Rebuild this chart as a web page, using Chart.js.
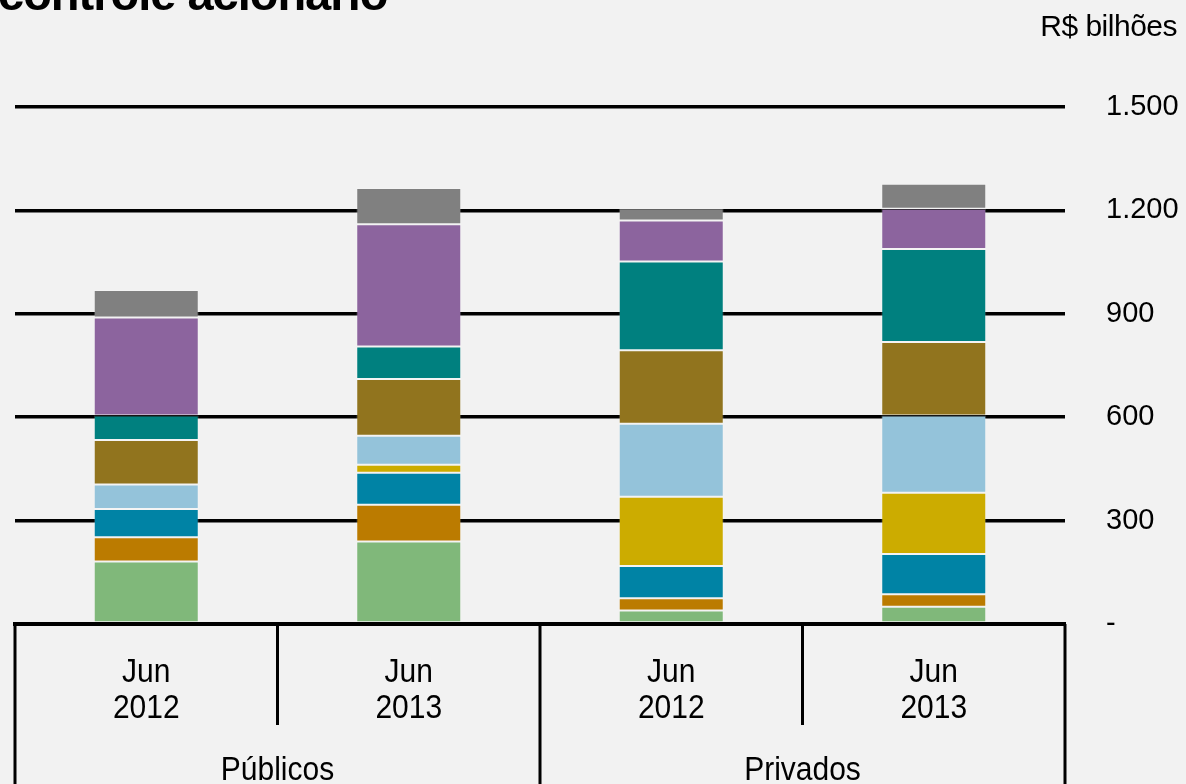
<!DOCTYPE html>
<html>
<head>
<meta charset="utf-8">
<script src="https://cdn.jsdelivr.net/npm/chart.js@4/dist/chart.umd.min.js"></script>
<style>
html,body{margin:0;padding:0;background:#F2F2F2;}
#wrap{position:relative;width:1186px;height:784px;}
</style>
</head>
<body>
<div id="wrap"><canvas id="c"></canvas></div>
<script>
// ---- data ----
const periods = ['Jun\n2012', 'Jun\n2013', 'Jun\n2012', 'Jun\n2013'];
const groups = ['Públicos', 'Privados'];
const titleText = 'controle acionário';
const unitText = 'R$ bilhões';
const yTickValues = [0, 300, 600, 900, 1200, 1500];
const yTickLabels = ['-', '300', '600', '900', '1.200', '1.500'];

const serie1 = [181, 239, 39, 50];
const serie2 = [71, 107, 36, 36];
const serie3 = [82, 93, 93, 117];
const serie4 = [0, 23, 201, 178];
const serie5 = [71, 84, 212, 224];
const serie6 = [129, 165, 213, 213];
const serie7 = [71, 94, 258, 270];
const serie8 = [284, 355, 119, 117];
const serie9 = [80, 105, 35, 72];

const seriesNames = ['Série 1','Série 2','Série 3','Série 4','Série 5','Série 6','Série 7','Série 8','Série 9'];
const seriesColors = ['#80B87A','#BB7B00','#0083A5','#CCAC00','#94C3DA','#91741E','#00807F','#8C649E','#808080'];
const seriesData = [serie1, serie2, serie3, serie4, serie5, serie6, serie7, serie8, serie9];

const FONT = '"Liberation Sans", Arial, sans-serif';

function stretchText(ctx, text, x, y, sy) {
  ctx.save();
  ctx.translate(x, y);
  ctx.scale(1, sy);
  ctx.fillText(text, 0, 0);
  ctx.restore();
}

const tablePlugin = {
  id: 'tablePlugin',
  afterDraw(chart) {
    const ctx = chart.ctx;
    const ca = chart.chartArea;
    const x = chart.scales.x;
    const n = periods.length;
    const step = (ca.right - ca.left) / n;
    const base = ca.bottom;
    ctx.save();
    ctx.strokeStyle = '#000';
    ctx.fillStyle = '#000';
    // baseline
    ctx.lineWidth = 4;
    ctx.beginPath();
    ctx.moveTo(ca.left - 2, base);
    ctx.lineTo(ca.right + 1, base);
    ctx.stroke();
    // vertical separators
    ctx.lineWidth = 3;
    for (let i = 0; i <= n; i++) {
      const px = ca.left + step * i;
      const full = (i % 2 === 0);
      ctx.beginPath();
      ctx.moveTo(px, base);
      ctx.lineTo(px, full ? 784 : 725);
      ctx.stroke();
    }
    // period labels
    ctx.font = '30px ' + FONT;
    ctx.textAlign = 'center';
    ctx.textBaseline = 'alphabetic';
    periods.forEach((p, i) => {
      const cx = x.getPixelForValue(i);
      const lines = p.split('\n');
      stretchText(ctx, lines[0], cx, 682, 1.08);
      stretchText(ctx, lines[1], cx, 718, 1.08);
    });
    // group labels
    groups.forEach((g, gi) => {
      const cx = ca.left + step * (gi * 2 + 1);
      stretchText(ctx, g, cx, 780, 1.08);
    });
    // unit label
    ctx.font = '30px ' + FONT;
    ctx.textAlign = 'right';
    try { ctx.letterSpacing = '-0.5px'; } catch(e) {}
    stretchText(ctx, unitText, 1177, 36, 1.0);
    // title (clipped at top)
    ctx.font = 'bold 47px ' + FONT;
    ctx.textAlign = 'left';
    try { ctx.letterSpacing = '-1px'; } catch(e) {}
    ctx.fillText(titleText, -2, 10);
    ctx.restore();
  }
};

new Chart(document.getElementById('c'), {
  type: 'bar',
  data: {
    labels: periods,
    datasets: seriesData.map((d, i) => ({
      label: seriesNames[i],
      data: d,
      backgroundColor: seriesColors[i],
      borderColor: 'rgba(255,255,255,0.18)',
      borderWidth: 1,
      borderSkipped: false,
      barPercentage: 0.4,
      categoryPercentage: 1.0
    }))
  },
  options: {
    responsive: true,
    maintainAspectRatio: false,
    animation: false,
    layout: { padding: { left: 15, top: 107, bottom: 160, right: 0 } },
    plugins: { legend: { display: false }, tooltip: { enabled: false }, title: { display: false } },
    scales: {
      x: { stacked: true, display: false },
      y: {
        stacked: true,
        position: 'right',
        min: 0, max: 1500,
        afterFit(scale) { scale.width = 121; },
        afterBuildTicks(scale) { scale.ticks = yTickValues.map(v => ({ value: v })); },
        grid: { color: '#000', lineWidth: 3.5, drawTicks: false },
        border: { display: false },
        ticks: {
          padding: 41,
          color: '#000',
          font: { family: FONT, size: 29 },
          callback: (v) => yTickLabels[yTickValues.indexOf(v)]
        }
      }
    }
  },
  plugins: [tablePlugin]
});
</script>
</body>
</html>
